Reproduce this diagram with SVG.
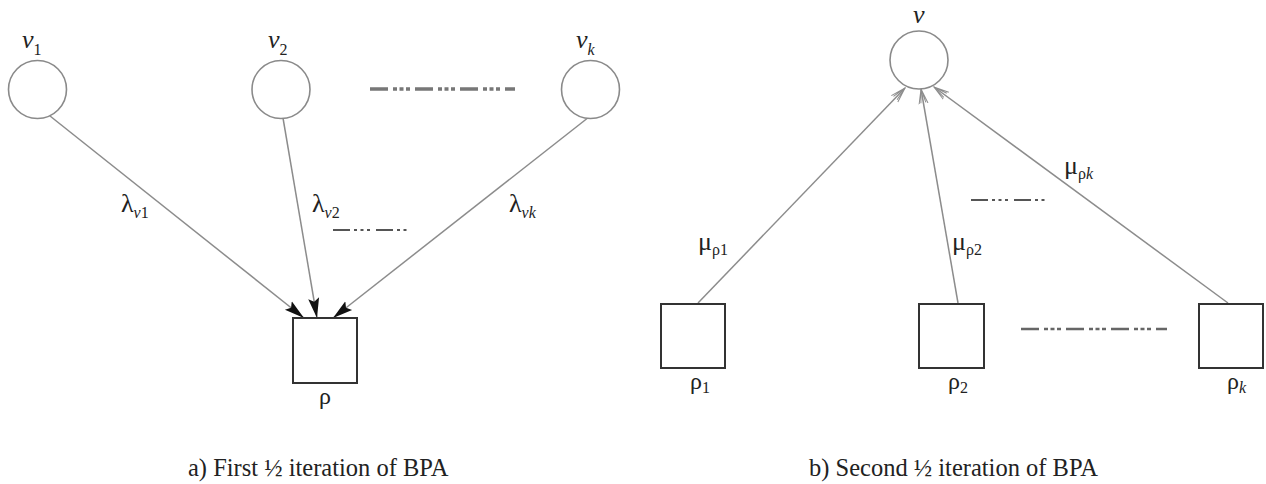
<svg xmlns="http://www.w3.org/2000/svg" width="1266" height="484" viewBox="0 0 1266 484">
<style>
.circ{fill:#fff;stroke:#8a8a8a;stroke-width:1.6}
.sq{fill:#fff;stroke:#333;stroke-width:2}
.edge{stroke:#8c8c8c;stroke-width:1.5;fill:none}
.lbl{font-family:"Liberation Serif","Times New Roman",serif;font-size:26px;fill:#222}
.rl{font-size:24px}
.it{font-style:italic}
.sub{font-size:16px}
.cap{font-family:"Liberation Serif","Times New Roman",serif;font-size:24.5px;fill:#222}
.dl{stroke:#777;stroke-width:3.5;fill:none;stroke-dasharray:18 5 4 2.5 4 2.5 4 5}
.ds{stroke:#555;stroke-width:2;fill:none;stroke-dasharray:17 4 3 3.5 3 3.5 3 6}
</style>
<defs>
<marker id="ah" markerWidth="22" markerHeight="14" refX="20" refY="7" orient="auto" markerUnits="userSpaceOnUse">
<path d="M0,1.5 L20,7 L0,12.5 L3.5,7 Z" fill="#111"/>
</marker>
<marker id="oh" markerWidth="18" markerHeight="12" refX="15" refY="6" orient="auto" markerUnits="userSpaceOnUse">
<path d="M0,1.5 L15,6 L0,10.5 M1,3.5 L15,6 L1,8.5" fill="none" stroke="#8c8c8c" stroke-width="1"/>
</marker>
</defs>

<g id="connectors">
<line class="edge" x1="50" y1="116" x2="304" y2="318" marker-end="url(#ah)"/>
<line class="edge" x1="283" y1="118" x2="317" y2="318" marker-end="url(#ah)"/>
<line class="edge" x1="589" y1="117" x2="333" y2="318" marker-end="url(#ah)"/>
<line class="edge" x1="698" y1="303" x2="905" y2="88" marker-end="url(#oh)"/>
<line class="edge" x1="958" y1="303" x2="921" y2="89" marker-end="url(#oh)"/>
<line class="edge" x1="1228" y1="303" x2="934" y2="87" marker-end="url(#oh)"/>
</g>

<g id="edge-labels">
<text class="lbl" x="121" y="212">λ<tspan class="sub it" dy="6">v</tspan><tspan class="sub">1</tspan></text>
<text class="lbl" x="312" y="212">λ<tspan class="sub it" dy="6">v</tspan><tspan class="sub">2</tspan></text>
<text class="lbl" x="509" y="212">λ<tspan class="sub it" dy="6">vk</tspan></text>
<text class="lbl" x="698" y="250">μ<tspan class="sub" dy="5">ρ1</tspan></text>
<text class="lbl" x="952" y="250">μ<tspan class="sub" dy="5">ρ2</tspan></text>
<text class="lbl" x="1064" y="174">μ<tspan class="sub" dy="5">ρ</tspan><tspan class="sub it">k</tspan></text>
</g>

<g id="ellipsis">
<line class="dl" x1="370" y1="89" x2="515" y2="89"/>
<line class="ds" x1="333" y1="230" x2="410" y2="230"/>
<line class="ds" x1="971" y1="200" x2="1048" y2="200"/>
<line class="dl" x1="1021" y1="329" x2="1167" y2="329" style="stroke-width:2.6;stroke:#666"/>
</g>

<g id="node-v1">
<circle class="circ" cx="37.5" cy="89.5" r="29"/>
<text class="lbl" x="22" y="48"><tspan class="it">v</tspan><tspan class="sub" dy="7">1</tspan></text>
</g>
<g id="node-v2">
<circle class="circ" cx="281" cy="89.5" r="29"/>
<text class="lbl" x="268" y="48"><tspan class="it">v</tspan><tspan class="sub" dy="7">2</tspan></text>
</g>
<g id="node-vk">
<circle class="circ" cx="590.5" cy="89.5" r="29"/>
<text class="lbl" x="576" y="48"><tspan class="it">v</tspan><tspan class="sub it" dy="7">k</tspan></text>
</g>
<g id="node-rho">
<rect class="sq" x="293" y="318" width="64" height="65"/>
<text class="lbl rl" x="319" y="404">ρ</text>
</g>

<g id="node-v">
<circle class="circ" cx="919" cy="60" r="29"/>
<text class="lbl it" x="913" y="23">v</text>
</g>
<g id="node-rho1">
<rect class="sq" x="661" y="304" width="64" height="64"/>
<text class="lbl rl" x="690" y="389">ρ<tspan class="sub" dy="4">1</tspan></text>
</g>
<g id="node-rho2">
<rect class="sq" x="919" y="304" width="65" height="64"/>
<text class="lbl rl" x="948" y="389">ρ<tspan class="sub" dy="4">2</tspan></text>
</g>
<g id="node-rhok">
<rect class="sq" x="1199" y="304" width="64" height="64"/>
<text class="lbl rl" x="1227" y="389">ρ<tspan class="sub it" dy="4">k</tspan></text>
</g>

<g id="captions">
<text class="cap" x="188" y="476">a) First ½ iteration of BPA</text>
<text class="cap" x="809" y="476">b) Second ½ iteration of BPA</text>
</g>
</svg>
